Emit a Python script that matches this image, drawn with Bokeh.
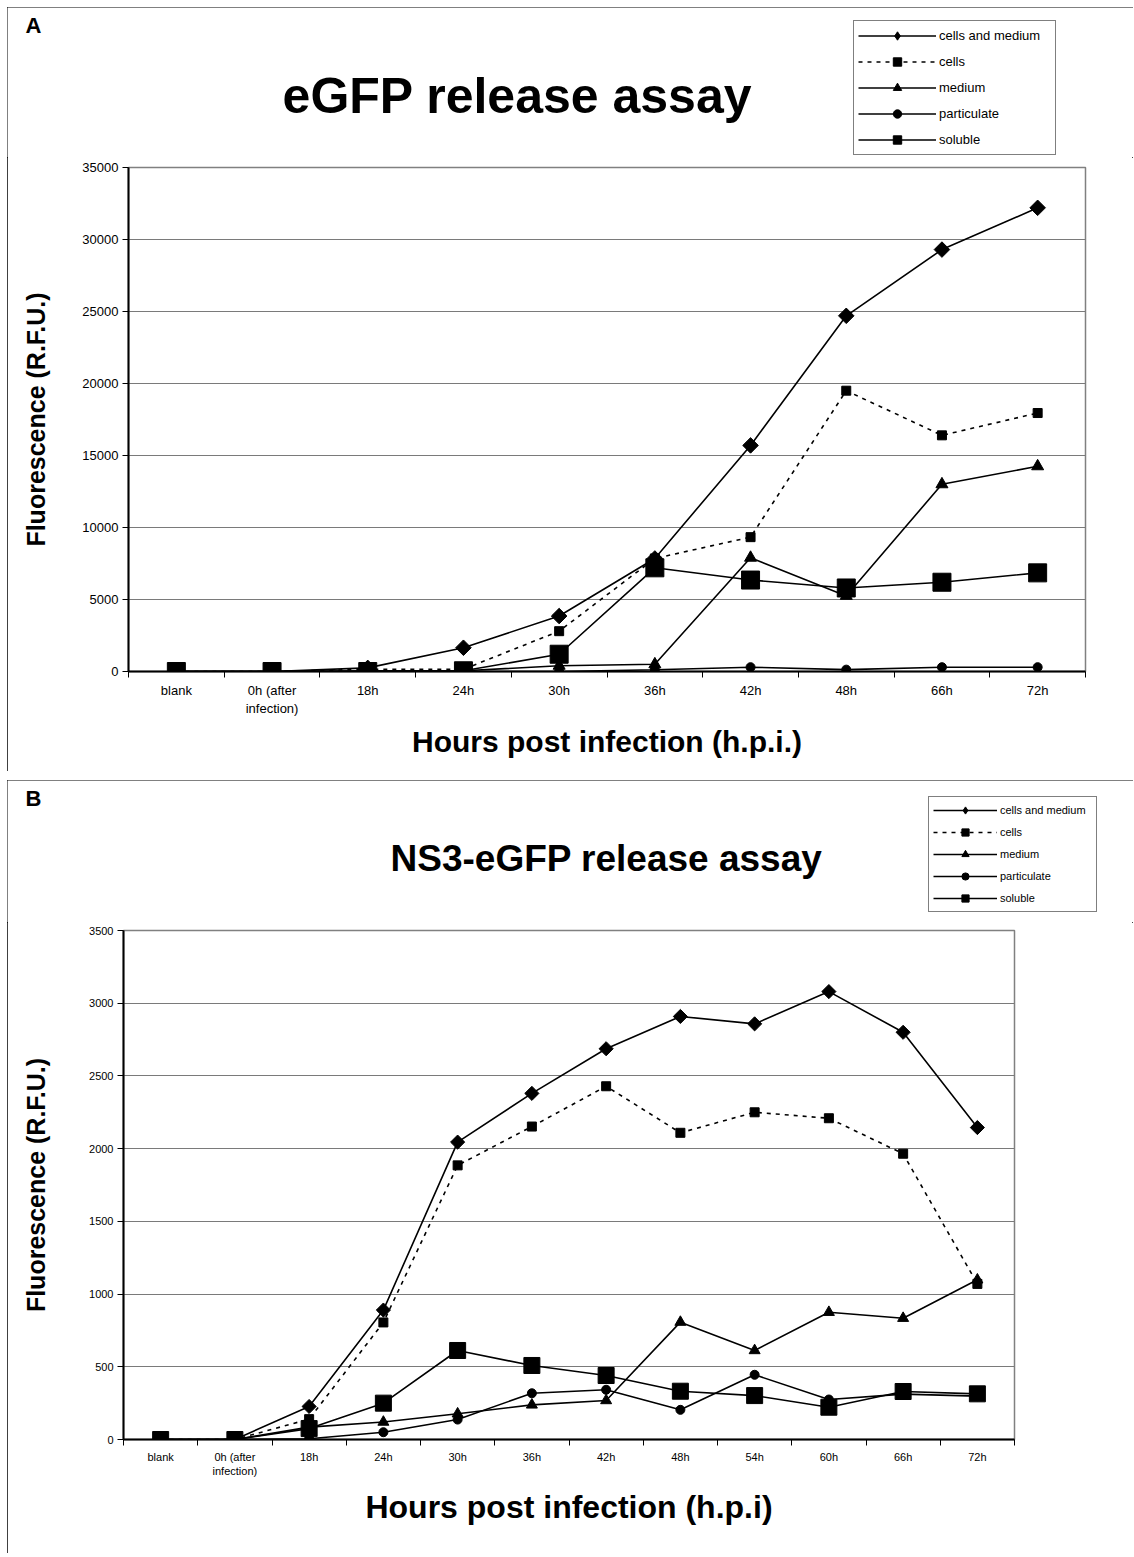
from math import pi
from bokeh.plotting import figure
from bokeh.layouts import column
from bokeh.models import FixedTicker, Legend, LegendItem, Label, Range1d
from bokeh.embed import file_html
from bokeh.resources import INLINE

# ---------------- data ----------------
hours_a = ["blank", "0h (after\ninfection)", "18h", "24h", "30h", "36h", "42h", "48h", "66h", "72h"]
cells_and_medium_a = [0, 0, 250, 1650, 3850, 7850, 15700, 24700, 29300, 32200]
cells_a = [0, 0, 150, 150, 2800, 7850, 9330, 19500, 16400, 17950]
medium_a = [0, 0, 50, 50, 400, 500, 7900, 5250, 13000, 14250]
particulate_a = [0, 0, 0, 0, 0, 120, 300, 130, 300, 300]
soluble_a = [0, 0, 0, 50, 1200, 7200, 6350, 5800, 6200, 6850]
yticks_a = [0, 5000, 10000, 15000, 20000, 25000, 30000, 35000]

hours_b = ["blank", "0h (after\ninfection)", "18h", "24h", "30h", "36h", "42h", "48h", "54h", "60h", "66h", "72h"]
cells_and_medium_b = [0, 0, 227, 890, 2045, 2380, 2687, 2909, 2858, 3080, 2800, 2145]
cells_b = [0, 0, 140, 805, 1885, 2152, 2429, 2109, 2250, 2209, 1965, 1070]
medium_b = [0, 0, 85, 120, 177, 238, 268, 807, 612, 875, 834, 1098]
particulate_b = [0, 0, 5, 50, 137, 318, 342, 204, 445, 275, 312, 298]
soluble_b = [0, 0, 75, 250, 612, 509, 440, 332, 302, 222, 330, 314]
yticks_b = [0, 500, 1000, 1500, 2000, 2500, 3000, 3500]

series_names = ["cells and medium", "cells", "medium", "particulate", "soluble"]

FONT = "Liberation Sans"
INK = "black"
PANEL_W = 1126


def marker_styles(sizes):
    return [
        dict(marker="square", angle=pi / 4, size=sizes[0], dash="solid", leg="diamond"),
        dict(marker="square", angle=0, size=sizes[1], dash="4 5", leg="square"),
        dict(marker="triangle", angle=0, size=sizes[2], dash="solid", leg="triangle"),
        dict(marker="circle", angle=0, size=sizes[3], dash="solid", leg="circle"),
        dict(marker="square", angle=0, size=sizes[4], dash="solid", leg="square"),
    ]


def make_header(letter, title, cats, series, sizes, head_h, title_xy, title_size,
                letter_xy, legend_xy, legend_font, glyph_w, glyph_h, leg_spacing, label_w):
    h = figure(width=PANEL_W, height=head_h, output_backend="svg", toolbar_location=None,
               x_range=Range1d(0, PANEL_W), y_range=Range1d(0, head_h),
               x_axis_location=None, y_axis_location=None, min_border=0,
               frame_align=False,
               outline_line_color=None, background_fill_color="white",
               border_fill_color="white")
    h.grid.visible = False
    # series put on a range that keeps them off this strip: they only feed the legend
    h.extra_x_ranges = {"off": Range1d(-20, -10)}
    xs = [i + 0.5 for i in range(len(cats))]
    items = []
    for name, ys, st in zip(series_names, series, marker_styles(sizes)):
        ln = h.line(xs, ys, line_color=INK, line_width=1.6, line_dash=st["dash"],
                    x_range_name="off")
        sc = h.scatter(xs, ys, marker=st["leg"], size=st["size"], fill_color=INK,
                       line_color=INK, x_range_name="off")
        items.append(LegendItem(label=name, renderers=[ln, sc]))
    leg = Legend(items=items, location=legend_xy, orientation="vertical",
                 border_line_color=INK, border_line_width=1,
                 background_fill_color="white", background_fill_alpha=1,
                 label_text_font=FONT, label_text_font_size=legend_font,
                 label_text_color=INK,
                 glyph_width=glyph_w, glyph_height=glyph_h, spacing=leg_spacing,
                 padding=4, margin=0, label_standoff=3, label_width=label_w)
    h.add_layout(leg)
    h.add_layout(Label(x=title_xy[0], y=title_xy[1], text=title, text_align="center",
                       text_baseline="middle", text_font=FONT, text_font_size=title_size,
                       text_font_style="bold", text_color=INK))
    h.add_layout(Label(x=letter_xy[0], y=letter_xy[1], text=letter, text_align="center",
                       text_baseline="middle", text_font=FONT, text_font_size="22px",
                       text_font_style="bold", text_color=INK))
    return h


def make_plot(cats, series, yticks, fig_h, bl, br, bt, bb, tick_size, xlabel,
              xlabel_size, ylabel_standoff, xlabel_standoff, sizes):
    n = len(cats)
    xs = [i + 0.5 for i in range(n)]
    p = figure(width=PANEL_W, height=fig_h, output_backend="svg", toolbar_location=None,
               x_range=Range1d(0, n), y_range=Range1d(yticks[0], yticks[-1]),
               min_border_left=bl, min_border_right=br, min_border_top=bt, min_border_bottom=bb,
               frame_align=False,
               background_fill_color="white", border_fill_color="white")
    p.outline_line_color = "#808080"
    p.outline_line_width = 1.5
    p.xgrid.grid_line_color = None
    p.ygrid.grid_line_color = "#7a7a7a"
    p.ygrid.grid_line_width = 1.2
    p.ygrid.ticker = FixedTicker(ticks=yticks)

    xa = p.xaxis[0]
    xa.ticker = FixedTicker(ticks=xs, minor_ticks=list(range(n + 1)))
    xa.major_label_overrides = {x: c for x, c in zip(xs, cats)}
    xa.major_tick_line_color = None
    xa.major_tick_out = 0
    xa.major_tick_in = 0
    xa.minor_tick_line_color = INK
    xa.minor_tick_out = 6
    xa.minor_tick_in = 0
    xa.axis_line_width = 2
    xa.axis_line_color = INK
    xa.major_label_text_font = FONT
    xa.major_label_text_font_size = tick_size
    xa.major_label_text_color = INK
    xa.major_label_standoff = 5
    xa.axis_label = xlabel
    xa.axis_label_text_font = FONT
    xa.axis_label_text_font_size = xlabel_size
    xa.axis_label_text_font_style = "bold"
    xa.axis_label_text_color = INK
    xa.axis_label_standoff = xlabel_standoff

    ya = p.yaxis[0]
    ya.ticker = FixedTicker(ticks=yticks)
    ya.minor_tick_line_color = None
    ya.major_tick_line_color = INK
    ya.major_tick_out = 6
    ya.major_tick_in = 0
    ya.axis_line_width = 2
    ya.axis_line_color = INK
    ya.major_label_text_font = FONT
    ya.major_label_text_font_size = tick_size
    ya.major_label_text_color = INK
    ya.major_label_standoff = 4
    ya.axis_label = "Fluorescence (R.F.U.)"
    ya.axis_label_text_font = FONT
    ya.axis_label_text_font_size = "25px"
    ya.axis_label_text_font_style = "bold"
    ya.axis_label_text_color = INK
    ya.axis_label_standoff = ylabel_standoff

    for ys, st in zip(series, marker_styles(sizes)):
        p.line(xs, ys, line_color=INK, line_width=1.6, line_dash=st["dash"])
        p.scatter(xs, ys, marker=st["marker"], angle=st["angle"], size=st["size"],
                  fill_color=INK, line_color=INK)
    return p


series_a = [cells_and_medium_a, cells_a, medium_a, particulate_a, soluble_a]
series_b = [cells_and_medium_b, cells_b, medium_b, particulate_b, soluble_b]
sizes_a = [11, 9, 12, 9, 18]
sizes_b = [10, 9, 11, 9, 16]

headA = make_header("A", "eGFP release assay", hours_a, series_a, sizes_a, 150,
                    (510, 62), "50px", (26, 132), (846, 2), "13px", 78, 21, 5, 112)
plotA = make_plot(hours_a, series_a, yticks_a, 614, 121, 48, 10, 100, "13px",
                  "Hours post infection (h.p.i.)", "30px", 29, 6, sizes_a)

headB = make_header("B", "NS3-eGFP release assay", hours_b, series_b, sizes_b, 142,
                    (599, 64), "37px", (26, 124), (921, 10), "11px", 64, 18, 4, 92)
plotB = make_plot(hours_b, series_b, yticks_b, 631, 116, 119, 8, 114, "11px",
                  "Hours post infection (h.p.i)", "32px", 36, 9, sizes_b)

border = {"outline": "1px solid black", "outline-offset": "-1px"}
panelA = column(headA, plotA, spacing=0, styles=border)
panelB = column(headB, plotB, spacing=0, styles=border)
layout = column(panelA, panelB, spacing=9, margin=(7, 0, 0, 7))

with open("out.html", "w") as f:
    f.write(file_html(layout, INLINE))
